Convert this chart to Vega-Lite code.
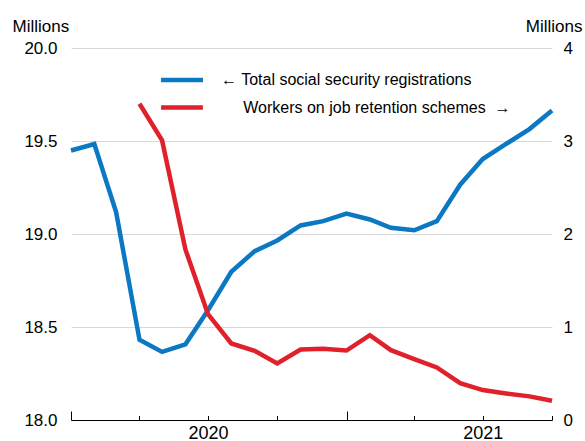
{
  "$schema": "https://vega.github.io/schema/vega-lite/v6.json",
  "width": 481,
  "height": 372,
  "autosize": {"type": "none"},
  "padding": {"left": 71, "top": 48, "right": 33, "bottom": 21},
  "background": "white",
  "config": {
    "font": "Liberation Sans",
    "view": {"stroke": null},
    "axis": {"labelFont": "Liberation Sans", "titleFont": "Liberation Sans", "labelColor": "#000", "titleColor": "#000", "titleFontWeight": "normal"},
    "legend": {"labelFont": "Liberation Sans"}
  },
  "datasets": {
    "series": [
      {"date": "2020-01-01", "series": "registrations", "value": 19.449},
      {"date": "2020-02-01", "series": "registrations", "value": 19.484},
      {"date": "2020-03-01", "series": "registrations", "value": 19.117},
      {"date": "2020-04-01", "series": "registrations", "value": 18.431},
      {"date": "2020-05-01", "series": "registrations", "value": 18.366},
      {"date": "2020-06-01", "series": "registrations", "value": 18.407},
      {"date": "2020-07-01", "series": "registrations", "value": 18.59},
      {"date": "2020-08-01", "series": "registrations", "value": 18.797},
      {"date": "2020-09-01", "series": "registrations", "value": 18.908},
      {"date": "2020-10-01", "series": "registrations", "value": 18.965},
      {"date": "2020-11-01", "series": "registrations", "value": 19.046},
      {"date": "2020-12-01", "series": "registrations", "value": 19.069},
      {"date": "2021-01-01", "series": "registrations", "value": 19.11},
      {"date": "2021-02-01", "series": "registrations", "value": 19.078},
      {"date": "2021-03-01", "series": "registrations", "value": 19.033},
      {"date": "2021-04-01", "series": "registrations", "value": 19.02},
      {"date": "2021-05-01", "series": "registrations", "value": 19.069},
      {"date": "2021-06-01", "series": "registrations", "value": 19.265},
      {"date": "2021-07-01", "series": "registrations", "value": 19.403},
      {"date": "2021-08-01", "series": "registrations", "value": 19.484},
      {"date": "2021-09-01", "series": "registrations", "value": 19.564},
      {"date": "2021-10-01", "series": "registrations", "value": 19.664},
      {"date": "2020-04-01", "series": "retention", "value": 3.40},
      {"date": "2020-05-01", "series": "retention", "value": 3.006},
      {"date": "2020-06-01", "series": "retention", "value": 1.834},
      {"date": "2020-07-01", "series": "retention", "value": 1.137},
      {"date": "2020-08-01", "series": "retention", "value": 0.823},
      {"date": "2020-09-01", "series": "retention", "value": 0.743},
      {"date": "2020-10-01", "series": "retention", "value": 0.608},
      {"date": "2020-11-01", "series": "retention", "value": 0.758},
      {"date": "2020-12-01", "series": "retention", "value": 0.765},
      {"date": "2021-01-01", "series": "retention", "value": 0.747},
      {"date": "2021-02-01", "series": "retention", "value": 0.912},
      {"date": "2021-03-01", "series": "retention", "value": 0.751},
      {"date": "2021-04-01", "series": "retention", "value": 0.654},
      {"date": "2021-05-01", "series": "retention", "value": 0.565},
      {"date": "2021-06-01", "series": "retention", "value": 0.397},
      {"date": "2021-07-01", "series": "retention", "value": 0.322},
      {"date": "2021-08-01", "series": "retention", "value": 0.286},
      {"date": "2021-09-01", "series": "retention", "value": 0.254},
      {"date": "2021-10-01", "series": "retention", "value": 0.207}
    ]
  },
  "data": {"name": "series"},
  "encoding": {
    "x": {
      "field": "date",
      "type": "temporal",
      "scale": {"type": "utc", "domain": [{"year": 2020, "month": 1, "date": 1, "utc": true}, {"year": 2021, "month": 10, "date": 1, "utc": true}]},
      "axis": {
        "title": null,
        "grid": false,
        "values": [
          {"year": 2020, "month": 1, "date": 1, "utc": true},
          {"year": 2020, "month": 4, "date": 1, "utc": true},
          {"year": 2020, "month": 7, "date": 1, "utc": true},
          {"year": 2020, "month": 10, "date": 1, "utc": true},
          {"year": 2021, "month": 1, "date": 1, "utc": true},
          {"year": 2021, "month": 4, "date": 1, "utc": true},
          {"year": 2021, "month": 7, "date": 1, "utc": true},
          {"year": 2021, "month": 10, "date": 1, "utc": true}
        ],
        "labelExpr": "utcmonth(datum.value) == 6 ? utcFormat(datum.value, '%Y') : ''",
        "labelFlush": false,
        "labelOverlap": false,
        "labelFontSize": 18,
        "labelBaseline": "top",
        "labelPadding": 8.5,
        "tickSize": {"condition": {"test": "utcmonth(datum.value) == 0", "value": -9}, "value": -4.5},
        "tickColor": "#000",
        "domainColor": "#000",
        "domainWidth": 1,
        "tickWidth": 1
      }
    },
    "color": {
      "field": "series",
      "type": "nominal",
      "scale": {"domain": ["registrations", "retention"], "range": ["#0a78c2", "#e0212c"]},
      "legend": {
        "orient": "none",
        "legendX": 100,
        "legendY": 21,
        "title": null,
        "padding": 0,
        "symbolType": "M-2.5,0H2.5",
        "symbolSize": 280,
        "symbolStrokeWidth": 4.5,
        "labelFontSize": 16,
        "labelColor": "#000",
        "labelOffset": 28,
        "labelLimit": 0,
        "rowPadding": 7.5,
        "labelExpr": "datum.value == 'registrations' ? '\u2190 Total social security registrations' : '\u200b\u00a0\u00a0\u00a0\u00a0\u00a0Workers on job retention schemes\u00a0\u00a0\u2192'"
      }
    }
  },
  "layer": [
    {
      "transform": [{"filter": "datum.series == 'registrations'"}],
      "mark": {"type": "line", "strokeWidth": 4.5},
      "encoding": {
        "y": {
          "field": "value",
          "type": "quantitative",
          "scale": {"domain": [18, 20], "nice": false, "zero": false},
          "axis": {
            "orient": "left",
            "values": [18, 18.5, 19, 19.5, 20],
            "format": ".1f",
            "grid": true,
            "gridColor": "#d9d9d9",
            "gridWidth": 1,
            "domain": false,
            "ticks": false,
            "labelFontSize": 17,
            "labelPadding": 14,
            "title": "Millions",
            "titleFontSize": 17,
            "titleAngle": 0,
            "titleAlign": "left",
            "titleBaseline": "alphabetic",
            "titleX": -59,
            "titleY": -17
          }
        }
      }
    },
    {
      "transform": [{"filter": "datum.series == 'retention'"}],
      "mark": {"type": "line", "strokeWidth": 4.5},
      "encoding": {
        "y": {
          "field": "value",
          "type": "quantitative",
          "scale": {"domain": [0, 4], "nice": false},
          "axis": {
            "orient": "right",
            "values": [0, 1, 2, 3, 4],
            "grid": false,
            "domain": false,
            "ticks": false,
            "labelFontSize": 17,
            "labelPadding": 11,
            "title": "Millions",
            "titleFontSize": 17,
            "titleAngle": 0,
            "titleAlign": "right",
            "titleBaseline": "alphabetic",
            "titleX": 30,
            "titleY": -17
          }
        }
      }
    }
  ],
  "resolve": {"scale": {"y": "independent"}}
}
